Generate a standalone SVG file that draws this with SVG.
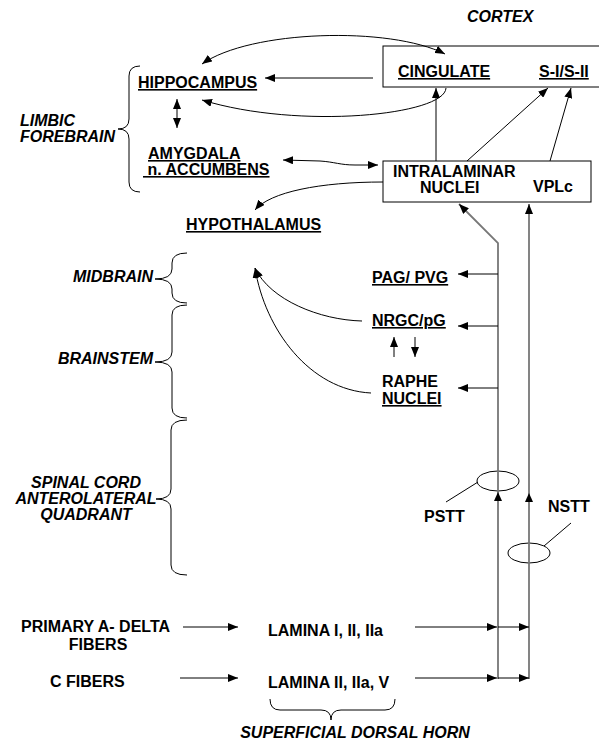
<svg xmlns="http://www.w3.org/2000/svg" width="599" height="742" viewBox="0 0 599 742">
<style>
text{font-family:"Liberation Sans",Arial,Helvetica,sans-serif;font-weight:bold;font-size:16px;fill:#000}
.i{font-style:italic}
.u{text-decoration:underline}
.m{text-anchor:middle}
.e{text-anchor:end}
.c{fill:none;stroke:#000;stroke-width:1}
.tr{fill:none;stroke:#777;stroke-width:1.8}
.box{fill:#fff;stroke:#000;stroke-width:1}
.br{fill:none;stroke:#000;stroke-width:1}
</style>
<defs>
<marker id="ah" viewBox="0 0 10 8" refX="10" refY="4" markerWidth="10" markerHeight="8" orient="auto-start-reverse" markerUnits="userSpaceOnUse"><path d="M0,0 L10,4 L0,8 z" fill="#000"/></marker>
</defs>
<rect width="599" height="742" fill="#fff"/>

<g id="labels-regions">
<text class="i" x="467" y="22">CORTEX</text>
<text class="i" x="20" y="126">LIMBIC</text>
<text class="i" x="20" y="142">FOREBRAIN</text>
<text class="i e" x="153" y="282">MIDBRAIN</text>
<text class="i e" x="153" y="364">BRAINSTEM</text>
<text class="i m" x="86" y="488">SPINAL CORD</text>
<text class="i m" x="86" y="504">ANTEROLATERAL</text>
<text class="i m" x="86" y="520">QUADRANT</text>
<text class="i m" x="355" y="738">SUPERFICIAL DORSAL HORN</text>
<path class="br" d="M140,66 Q129,66 129,76 L129,119 Q129,129 118,129 Q129,129 129,139 L129,182 Q129,192 140,192"/>
<path class="br" d="M187,253 Q172,253 172,263 L172,269 Q172,279 155,279 Q172,279 172,289 L172,293 Q172,303 187,303"/>
<path class="br" d="M187,305 Q172,305 172,315 L172,352 Q172,362 155,362 Q172,362 172,372 L172,408 Q172,418 187,418"/>
<path class="br" d="M187,420 Q171,420 171,430 L171,489 Q171,499 156,499 Q171,499 171,509 L171,565 Q171,575 187,575"/>
<path class="br" d="M270,699 Q270,710 280,710 L321,710 Q331,710 331,720 Q331,710 341,710 L385,710 Q395,710 395,699"/>
</g>

<g id="cortex">
<rect class="box" x="383" y="46" width="230" height="41"/>
<text class="u" x="398" y="77">CINGULATE</text>
<text class="u" x="539" y="77">S-I/S-II</text>
</g>
<g id="thalamus">
<rect class="box" x="383" y="161" width="208" height="41"/>
<text x="393" y="177">INTRALAMINAR</text>
<text x="420" y="193">NUCLEI</text>
<text x="533" y="192">VPLc</text>
</g>
<g id="hippocampus"><text class="u" x="138" y="88">HIPPOCAMPUS</text></g>
<g id="amygdala">
<text class="u" x="148" y="159">AMYGDALA</text>
<text class="u" x="143" y="175">&#160;n. ACCUMBENS</text>
</g>
<g id="hypothalamus"><text class="u" x="186" y="230">HYPOTHALAMUS</text></g>
<g id="pag"><text class="u" x="372" y="283">PAG/ PVG</text></g>
<g id="nrgc"><text class="u" x="372" y="326">NRGC/pG</text></g>
<g id="raphe">
<text x="382" y="387">RAPHE</text>
<text class="u" x="382" y="404">NUCLEI</text>
</g>
<g id="pstt">
<ellipse class="c" cx="498" cy="481" rx="21" ry="10"/>
<text x="424" y="522">PSTT</text>
</g>
<g id="nstt">
<ellipse class="c" cx="529" cy="553" rx="21" ry="10"/>
<text x="548" y="512">NSTT</text>
</g>
<g id="adelta">
<text x="21" y="632">PRIMARY A- DELTA</text>
<text class="m" x="98" y="650">FIBERS</text>
</g>
<g id="cfibers"><text x="50" y="687">C FIBERS</text></g>
<g id="lamina1"><text x="268" y="636">LAMINA I, II, IIa</text></g>
<g id="lamina2"><text x="268" y="688">LAMINA II, IIa, V</text></g>

<g id="connectors">
<path class="c" d="M202,64 C250,30 390,26 445,54" marker-start="url(#ah)" marker-end="url(#ah)"/>
<path class="c" d="M373,78 H265" marker-end="url(#ah)"/>
<path class="c" d="M446,88 C445,115 300,130 202,100" marker-end="url(#ah)"/>
<path class="c" d="M177,99 V128" marker-start="url(#ah)" marker-end="url(#ah)"/>
<path class="c" d="M283,160 L320,161 C335,162 340,165 355,165 L378,165" marker-start="url(#ah)" marker-end="url(#ah)"/>
<path class="c" d="M383,182 C320,182 270,192 255,210" marker-end="url(#ah)"/>
<path class="c" d="M436,161 V88" marker-end="url(#ah)"/>
<path class="c" d="M467,161 L548,88" marker-end="url(#ah)"/>
<path class="c" d="M550,161 L571,88" marker-end="url(#ah)"/>
<path class="tr" d="M498,679 V243 L459,204" marker-end="url(#ah)"/>
<path class="tr" d="M529,679 V204" marker-end="url(#ah)"/>
<polygon points="498,492 494,501 502,501" fill="#000"/>
<polygon points="529,493 525,502 533,502" fill="#000"/>
<path class="c" d="M498,274 H458" marker-end="url(#ah)"/>
<path class="c" d="M498,326 H458" marker-end="url(#ah)"/>
<path class="c" d="M498,388 H458" marker-end="url(#ah)"/>
<path class="c" d="M362,321 C320,320 270,300 255,268" marker-end="url(#ah)"/>
<path class="c" d="M371,393 C310,390 265,330 255,268" marker-end="url(#ah)"/>
<path class="c" d="M394,357 V337" marker-end="url(#ah)"/>
<path class="c" d="M415,337 V357" marker-end="url(#ah)"/>
<path class="c" d="M446,502 L478,482"/>
<path class="c" d="M544,546 L571,523"/>
<path class="c" d="M183,627 H238" marker-end="url(#ah)"/>
<path class="c" d="M415,627 H497" marker-end="url(#ah)"/>
<path class="c" d="M498,627 H529" marker-end="url(#ah)"/>
<path class="c" d="M180,678 H238" marker-end="url(#ah)"/>
<path class="c" d="M415,678 H497" marker-end="url(#ah)"/>
<path class="c" d="M498,678 H529" marker-end="url(#ah)"/>
</g>
</svg>
